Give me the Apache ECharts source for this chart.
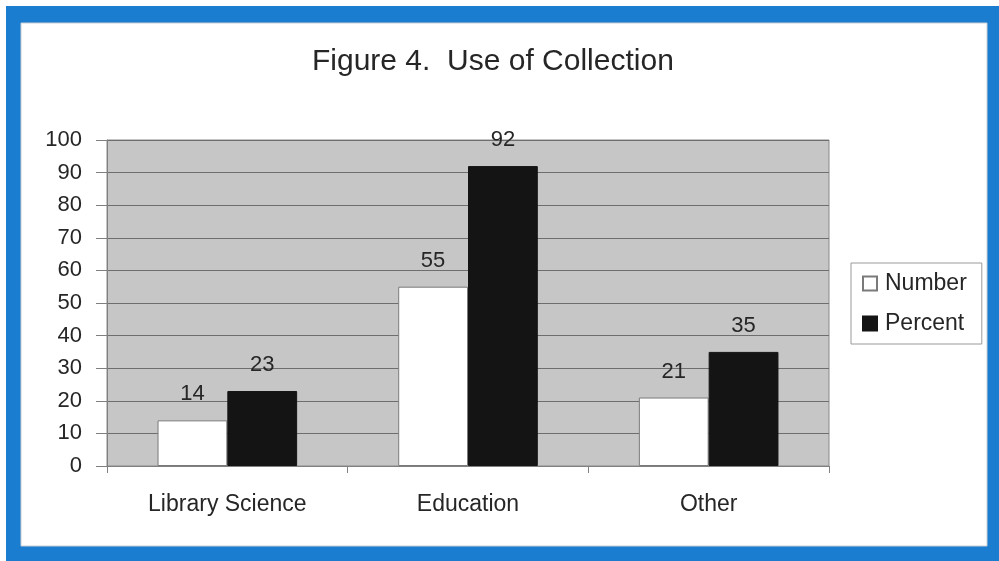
<!DOCTYPE html>
<html>
<head>
<meta charset="utf-8">
<script src="https://cdn.jsdelivr.net/npm/echarts@6/dist/echarts.min.js"></script>
<style>
  html, body { margin: 0; padding: 0; background: #ffffff; }
  #chart { width: 999px; height: 561px; }
</style>
</head>
<body>
<div id="chart"></div>
<script>
// Use of collection, by field
const categories = ['Library Science', 'Education', 'Other'];
const numberValues = [14, 55, 21];
const percentValues = [23, 92, 35];
const yTicks = [0, 10, 20, 30, 40, 50, 60, 70, 80, 90, 100];

const FONT = '"Liberation Sans", Arial, sans-serif';
const TEXT = '#262626';

const chart = echarts.init(document.getElementById('chart'), null, { renderer: 'canvas' });

chart.setOption({
  backgroundColor: '#ffffff',
  animation: false,
  graphic: [
    // blue frame
    {
      type: 'rect', z: -10, silent: true,
      shape: { x: 6, y: 6, width: 1000, height: 560 },
      style: { fill: '#1b7dcf' }
    },
    // white panel inside the frame
    {
      type: 'rect', z: -9, silent: true,
      shape: { x: 21, y: 23, width: 966, height: 523 },
      style: { fill: '#ffffff', stroke: '#c9ced3', lineWidth: 1 }
    }
  ],
  title: {
    text: 'Figure 4.  Use of Collection',
    left: 307,
    top: 42,
    textStyle: { fontFamily: FONT, fontSize: 30, fontWeight: 'normal', color: TEXT }
  },
  legend: {
    orient: 'vertical',
    left: 851,
    top: 263,
    padding: [9, 15, 9, 11],
    itemGap: 17,
    itemWidth: 14,
    itemHeight: 14,
    backgroundColor: '#ffffff',
    borderColor: '#9a9a9a',
    borderWidth: 1,
    borderRadius: 0,
    icon: 'rect',
    textStyle: { fontFamily: FONT, fontSize: 23, color: TEXT, padding: [0, 0, 0, 3] },
    data: ['Number', 'Percent']
  },
  grid: {
    left: 107,
    right: 170,
    top: 140,
    bottom: 95,
    show: true,
    backgroundColor: '#c6c6c6',
    borderColor: '#8a8a8a',
    borderWidth: 1
  },
  xAxis: {
    type: 'category',
    data: categories,
    axisLine: { show: true, lineStyle: { color: '#808080', width: 1 } },
    axisTick: { show: true, length: 7, lineStyle: { color: '#808080' } },
    axisLabel: { fontFamily: FONT, fontSize: 23, color: TEXT, margin: 27 },
    splitLine: { show: false }
  },
  yAxis: {
    type: 'value',
    min: yTicks[0],
    max: yTicks[yTicks.length - 1],
    interval: yTicks[1] - yTicks[0],
    axisLine: { show: true, lineStyle: { color: '#808080', width: 1 } },
    axisTick: { show: true, length: 11, lineStyle: { color: '#808080' } },
    axisLabel: { fontFamily: FONT, fontSize: 22, color: TEXT, margin: 25 },
    splitLine: { show: true, lineStyle: { color: '#6e6e6e', width: 1 } }
  },
  series: [
    {
      name: 'Number',
      type: 'bar',
      data: numberValues,
      barGap: '0%',
      barCategoryGap: '42%',
      itemStyle: { color: '#ffffff', borderColor: '#7a7a7a', borderWidth: 1 },
      label: {
        show: true, position: 'top', distance: 15,
        fontFamily: FONT, fontSize: 22, color: TEXT
      }
    },
    {
      name: 'Percent',
      type: 'bar',
      data: percentValues,
      barGap: '0%',
      barCategoryGap: '42%',
      itemStyle: { color: '#141414', borderColor: '#141414', borderWidth: 1 },
      label: {
        show: true, position: 'top', distance: 15,
        fontFamily: FONT, fontSize: 22, color: TEXT
      }
    }
  ]
});
</script>
</body>
</html>
